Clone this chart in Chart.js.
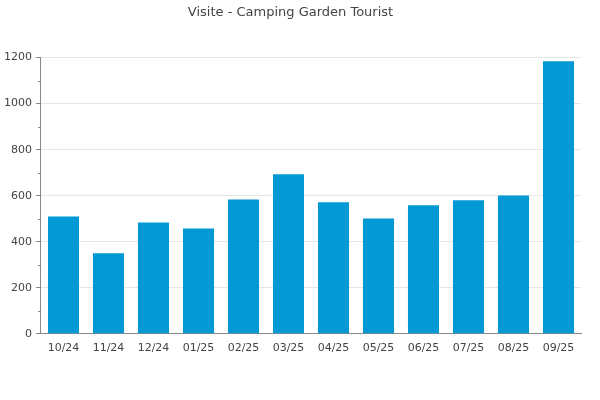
<!DOCTYPE html>
<html>
<head>
<meta charset="utf-8">
<script src="https://cdn.jsdelivr.net/npm/chart.js@4/dist/chart.umd.min.js"></script>
<style>
html,body{margin:0;padding:0;background:#fff;}
#wrap{width:600px;height:400px;position:relative;}
</style>
</head>
<body>
<div id="wrap"><canvas id="c" width="600" height="400"></canvas></div>
<script>
const categories = ['10/24','11/24','12/24','01/25','02/25','03/25','04/25','05/25','06/25','07/25','08/25','09/25'];
const visits = [510, 350, 484, 458, 584, 693, 571, 501, 558, 580, 601, 1184];
const chartTitle = 'Visite - Camping Garden Tourist';

const minorTicks = {
  id: 'minorTicks',
  afterDraw(chart) {
    const y = chart.scales.y;
    const ctx = chart.ctx;
    ctx.save();
    ctx.strokeStyle = '#888';
    ctx.lineWidth = 1;
    for (let v = 100; v < 1200; v += 200) {
      const py = Math.round(y.getPixelForValue(v)) + 0.5;
      ctx.beginPath();
      ctx.moveTo(y.right - 3, py);
      ctx.lineTo(y.right, py);
      ctx.stroke();
    }
    ctx.restore();
  }
};

new Chart(document.getElementById('c'), {
  type: 'bar',
  data: {
    labels: categories,
    datasets: [{
      data: visits,
      backgroundColor: '#0399d4',
      borderWidth: 0,
      barPercentage: 0.69,
      categoryPercentage: 1.0
    }]
  },
  options: {
    responsive: false,
    animation: false,
    devicePixelRatio: 1,
    layout: { padding: { left: 0, right: 19, top: 0, bottom: 37 } },
    plugins: {
      legend: { display: false },
      tooltip: { enabled: false },
      title: {
        display: true,
        text: chartTitle,
        color: '#444',
        font: { family: 'DejaVu Sans', size: 13, weight: 'normal' },
        padding: { top: 5, bottom: 37 }
      }
    },
    scales: {
      x: {
        grid: { display: false, drawTicks: false },
        border: { display: true, color: '#888', width: 1 },
        ticks: { color: '#444', font: { family: 'DejaVu Sans', size: 11 }, padding: 8, maxRotation: 0 }
      },
      y: {
        min: 0,
        max: 1200,
        border: { display: true, color: '#888', width: 1 },
        grid: {
          color: (ctx) => (ctx.tick && ctx.tick.value % 200 === 0) ? '#e6e6e6' : 'rgba(0,0,0,0)',
          tickColor: (ctx) => (ctx.tick && ctx.tick.value % 200 === 0) ? '#888' : 'rgba(0,0,0,0)',
          tickLength: 5,
          lineWidth: 1
        },
        ticks: {
          stepSize: 100,
          color: '#444',
          font: { family: 'DejaVu Sans', size: 11 },
          padding: 4,
          callback: (v) => (v % 200 === 0 ? String(v) : '')
        }
      }
    }
  },
  plugins: [minorTicks]
});
</script>
</body>
</html>
